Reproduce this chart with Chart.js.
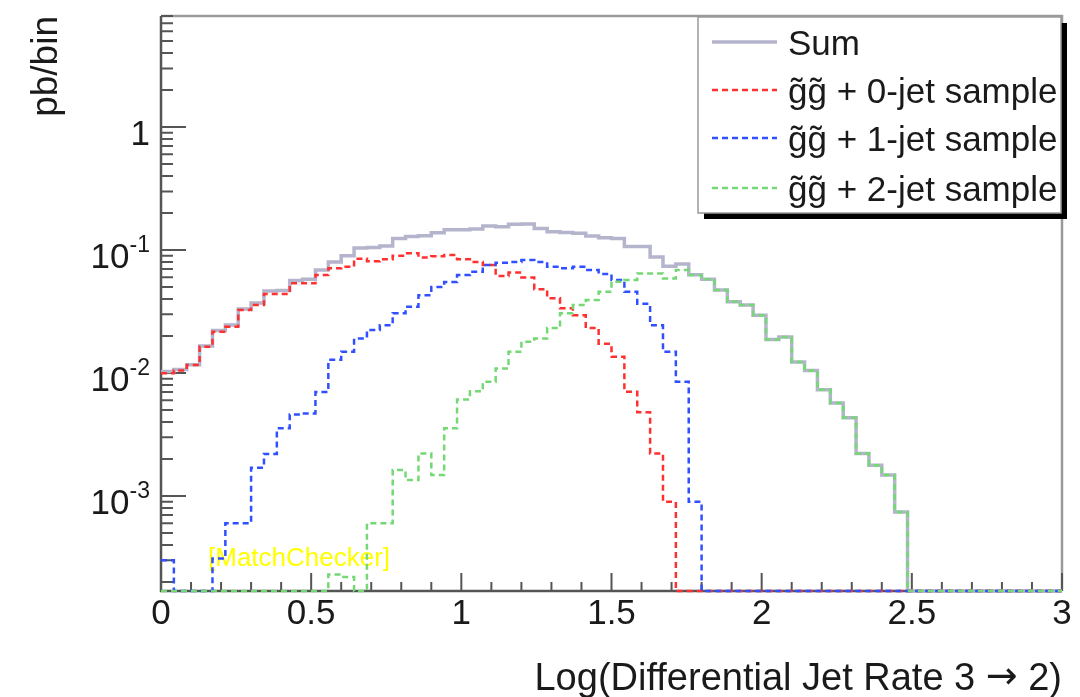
<!DOCTYPE html>
<html>
<head>
<meta charset="utf-8">
<script src="https://cdn.jsdelivr.net/npm/chart.js@4.4.1/dist/chart.umd.min.js"></script>
<style>
    body { margin: 0; background: #fff; }
    #wrap { width: 1080px; height: 697px; }
</style>
</head>
<body>
<div id="wrap"><canvas id="histo" width="1080" height="697"></canvas></div>
<script>
// axis ranges
const X_MIN = 0, X_MAX = 3;
const Y_MIN = 1.69e-4, Y_MAX = 8;

const xTickValues = [0, 0.5, 1, 1.5, 2, 2.5, 3];
const xTickLabels = ['0', '0.5', '1', '1.5', '2', '2.5', '3'];
const yTickValues = [1e-3, 1e-2, 1e-1, 1];
const yTickLabels = [['10', '-3'], ['10', '-2'], ['10', '-1'], ['1', '']];

const xTitleParts = ['Log(Differential Jet Rate 3 ', '\u2192', ' 2)'];
const yTitle = 'pb/bin';
const seriesLabels = ['Sum', 'g\u0303g\u0303 + 0-jet sample', 'g\u0303g\u0303 + 1-jet sample', 'g\u0303g\u0303 + 2-jet sample'];

// 70 bins from 0 to 3, pb per bin
const sumValues = [
    0.0103, 0.0107, 0.0117, 0.0166, 0.0222, 0.0246, 0.0331, 0.0372, 0.0464, 0.0470,
    0.0565, 0.0580, 0.0690, 0.0800, 0.0900, 0.1040, 0.1050, 0.1080, 0.1240, 0.1290,
    0.1310, 0.1380, 0.1460, 0.1460, 0.1480, 0.1570, 0.1550, 0.1620, 0.1630, 0.1500,
    0.1410, 0.1390, 0.1370, 0.1300, 0.1260, 0.1240, 0.1070, 0.1070, 0.0880, 0.0740,
    0.0770, 0.0630, 0.0580, 0.0473, 0.0380, 0.0357, 0.0295, 0.0187, 0.0196, 0.0123,
    0.0105, 0.0073, 0.0057, 0.00434, 0.00222, 0.00178, 0.00148, 0.00074, 0, 0,
    0, 0, 0, 0, 0, 0, 0, 0, 0, 0
];
const jet0Values = [
    0.00995, 0.0105, 0.0116, 0.0164, 0.0217, 0.0238, 0.0325, 0.0357, 0.0439, 0.0439,
    0.0536, 0.0536, 0.0626, 0.0710, 0.0732, 0.0850, 0.0810, 0.0840, 0.0900, 0.0940,
    0.0870, 0.0890, 0.0910, 0.0840, 0.0800, 0.0755, 0.0616, 0.0656, 0.0599, 0.0480,
    0.0406, 0.0337, 0.0295, 0.0232, 0.0173, 0.0136, 0.00705, 0.0048, 0.00222, 0.0009,
    0, 0, 0, 0, 0, 0, 0, 0, 0, 0,
    0, 0, 0, 0, 0, 0, 0, 0, 0, 0,
    0, 0, 0, 0, 0, 0, 0, 0, 0, 0
];
const jet1Values = [
    0.0003, 0, 0, 0, 0.00031, 0.0006, 0.0006, 0.0017, 0.0022, 0.00355,
    0.0046, 0.0047, 0.0070, 0.0128, 0.0149, 0.0191, 0.0224, 0.0245, 0.0306, 0.0346,
    0.0430, 0.0500, 0.0550, 0.0626, 0.0665, 0.0755, 0.0790, 0.0800, 0.0830, 0.0800,
    0.0732, 0.0710, 0.0732, 0.0688, 0.0640, 0.0571, 0.0458, 0.0366, 0.0245, 0.0149,
    0.0085, 0.0009, 0, 0, 0, 0, 0, 0, 0, 0,
    0, 0, 0, 0, 0, 0, 0, 0, 0, 0,
    0, 0, 0, 0, 0, 0, 0, 0, 0, 0
];
const jet2Values = [
    0, 0, 0, 0, 0, 0, 0, 0, 0, 0,
    0, 0, 0, 0.00023, 0.00022, 0, 0.0006, 0.0006, 0.00163, 0.00135,
    0.00222, 0.00148, 0.00355, 0.0061, 0.0071, 0.0085, 0.0109, 0.0149, 0.0180, 0.0191,
    0.0232, 0.0306, 0.0357, 0.0392, 0.0458, 0.0553, 0.0571, 0.0645, 0.0645, 0.0588,
    0.0688, 0.0626, 0.0580, 0.0473, 0.0380, 0.0357, 0.0295, 0.0187, 0.0196, 0.0123,
    0.0105, 0.0073, 0.0057, 0.00434, 0.00222, 0.00178, 0.00148, 0.00074, 0, 0,
    0, 0, 0, 0, 0, 0, 0, 0, 0, 0
];

const FONT = '"Liberation Sans", Arial, sans-serif';

// bin contents -> points at the left bin edges, empty bins sit on the frame like ROOT does
function steps(values) {
    const w = (X_MAX - X_MIN) / values.length;
    const pts = values.map((v, i) => ({x: X_MIN + i * w, y: Math.max(v, Y_MIN)}));
    pts.push({x: X_MAX, y: Math.max(values[values.length - 1], Y_MIN)});
    return pts;
}

function histSet(label, values, color, width, dash, order) {
    return {
        label: label,
        data: steps(values),
        borderColor: color,
        borderWidth: width,
        borderDash: dash,
        stepped: 'before',
        pointRadius: 0,
        fill: false,
        clip: false,
        order: order
    };
}

// frame, ticks and labels in the ROOT style
const rootFrame = {
    id: 'rootFrame',
    beforeDatasetsDraw(chart) {
        const ctx = chart.ctx;
        const a = chart.chartArea;
        const xs = chart.scales.x, ys = chart.scales.y;
        ctx.save();

        ctx.strokeStyle = '#9a9a9a';
        ctx.lineWidth = 2.5;
        ctx.beginPath();
        ctx.moveTo(a.left, a.top);
        ctx.lineTo(a.right, a.top);
        ctx.lineTo(a.right, a.bottom);
        ctx.stroke();

        ctx.strokeStyle = '#555';
        ctx.beginPath();
        ctx.moveTo(a.left, a.top);
        ctx.lineTo(a.left, a.bottom);
        ctx.lineTo(a.right, a.bottom);
        ctx.stroke();

        // x ticks every 0.1, long ones every 0.5
        ctx.lineWidth = 2;
        ctx.beginPath();
        for (let i = 0; i <= 30; i++) {
            const px = xs.getPixelForValue(i / 10);
            const len = (i % 5 == 0) ? 18 : 9;
            ctx.moveTo(px, a.bottom);
            ctx.lineTo(px, a.bottom - len);
        }
        // y ticks, decades long, 2..9 short
        for (let e = -4; e <= 0; e++) {
            for (let k = 1; k <= 9; k++) {
                const v = k * Math.pow(10, e);
                if (v < Y_MIN || v > Y_MAX) continue;
                const py = ys.getPixelForValue(v);
                const len = (k == 1) ? 25 : 12;
                ctx.moveTo(a.left, py);
                ctx.lineTo(a.left + len, py);
            }
        }
        ctx.stroke();

        ctx.fillStyle = '#1a1a1a';
        ctx.font = '35px ' + FONT;
        ctx.textAlign = 'center';
        ctx.textBaseline = 'middle';
        xTickValues.forEach((v, i) => {
            ctx.fillText(xTickLabels[i], xs.getPixelForValue(v), a.bottom + 23);
        });

        const labelRight = a.left - 11;
        yTickValues.forEach((v, i) => {
            const py = ys.getPixelForValue(v);
            const base = yTickLabels[i][0], sup = yTickLabels[i][1];
            let supW = 0;
            if (sup) {
                ctx.font = '23px ' + FONT;
                ctx.textAlign = 'right';
                supW = ctx.measureText(sup).width;
                ctx.fillText(sup, labelRight, py - 4);
            }
            ctx.font = '35px ' + FONT;
            ctx.textAlign = 'right';
            ctx.fillText(base, labelRight - supW, py + 8);
        });

        // x title, the arrow is set a bit larger like the TLatex #rightarrow
        ctx.textBaseline = 'alphabetic';
        ctx.textAlign = 'left';
        const bigFont = '38px ' + FONT;
        const arrowFont = '38px "DejaVu Sans", sans-serif';
        ctx.font = bigFont;
        const w0 = ctx.measureText(xTitleParts[0]).width;
        const w2 = ctx.measureText(xTitleParts[2]).width;
        ctx.font = arrowFont;
        const w1 = ctx.measureText(xTitleParts[1]).width;
        let tx = a.right - (w0 + w1 + w2);
        ctx.font = bigFont;
        ctx.fillText(xTitleParts[0], tx, 690);
        ctx.font = arrowFont;
        ctx.fillText(xTitleParts[1], tx + w0, 688);
        ctx.font = bigFont;
        ctx.fillText(xTitleParts[2], tx + w0 + w1, 690);

        ctx.save();
        ctx.font = '37px ' + FONT;
        ctx.translate(57, a.top);
        ctx.rotate(-Math.PI / 2);
        ctx.textAlign = 'right';
        ctx.fillText(yTitle, 0, 0);
        ctx.restore();

        ctx.fillStyle = '#ffff00';
        ctx.font = '26px ' + FONT;
        ctx.textAlign = 'left';
        ctx.fillText('[MatchChecker]', 208, 566);
        ctx.restore();
    }
};

// legend box with the black drop shadow
const rootLegend = {
    id: 'rootLegend',
    afterDatasetsDraw(chart) {
        const ctx = chart.ctx;
        const box = {x: 698, y: 17, w: 363, h: 196};
        ctx.save();
        ctx.fillStyle = '#000';
        ctx.fillRect(box.x + 6, box.y + 6, box.w, box.h);
        ctx.fillStyle = '#fff';
        ctx.fillRect(box.x, box.y, box.w, box.h);
        ctx.strokeStyle = '#9a9a9a';
        ctx.lineWidth = 1.5;
        ctx.strokeRect(box.x, box.y, box.w, box.h);

        const rows = [42, 90, 138, 188];
        ctx.textAlign = 'left';
        ctx.textBaseline = 'middle';
        chart.data.datasets.forEach((ds, i) => {
            ctx.strokeStyle = ds.borderColor;
            ctx.lineWidth = ds.borderWidth;
            ctx.setLineDash(ds.borderDash);
            ctx.beginPath();
            ctx.moveTo(712, rows[i]);
            ctx.lineTo(777, rows[i]);
            ctx.stroke();
            ctx.setLineDash([]);
            ctx.fillStyle = '#1a1a1a';
            ctx.font = '35px ' + FONT;
            ctx.fillText(ds.label, 788, rows[i] + 3);
        });
        ctx.restore();
    }
};

const ctx = document.getElementById('histo');
new Chart(ctx, {
    type: 'line',
    data: {
        datasets: [
            histSet(seriesLabels[0], sumValues, 'rgb(180,180,204)', 3.5, [], 4),
            histSet(seriesLabels[1], jet0Values, '#ff3030', 2.5, [6, 4], 3),
            histSet(seriesLabels[2], jet1Values, '#3050ff', 2.5, [6, 4], 2),
            histSet(seriesLabels[3], jet2Values, '#74d874', 2.5, [6, 4], 1)
        ]
    },
    options: {
        responsive: false,
        animation: false,
        layout: {padding: {left: 161, right: 18, top: 16, bottom: 106}},
        scales: {
            x: {type: 'linear', min: X_MIN, max: X_MAX, display: false},
            y: {type: 'logarithmic', min: Y_MIN, max: Y_MAX, display: false}
        },
        plugins: {
            legend: {display: false},
            tooltip: {enabled: false}
        }
    },
    plugins: [rootFrame, rootLegend]
});
</script>
</body>
</html>
